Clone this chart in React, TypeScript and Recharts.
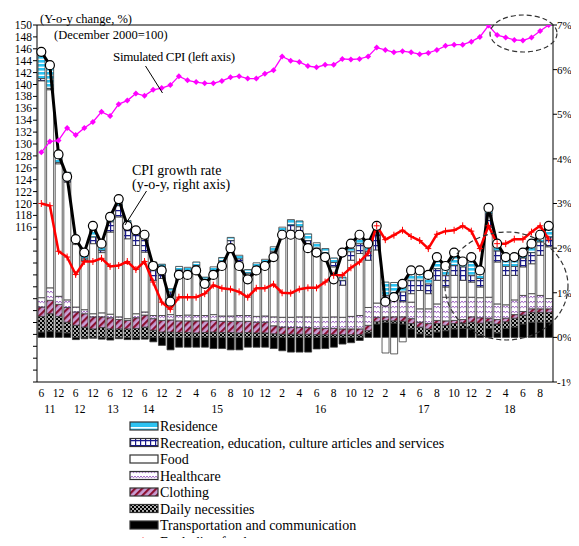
import React from 'react';
import { Bar, ComposedChart, Line, ReferenceLine, XAxis, YAxis } from 'recharts';

// quarterly to 2014, monthly from 2015
const periods = [
  '2011-06', '2011-09', '2011-12', '2012-03', '2012-06', '2012-09', '2012-12', '2013-03',
  '2013-06', '2013-09', '2013-12', '2014-03', '2014-06', '2014-09', '2014-12',
  '2015-01', '2015-02', '2015-03', '2015-04', '2015-05', '2015-06', '2015-07', '2015-08',
  '2015-09', '2015-10', '2015-11', '2015-12',
  '2016-01', '2016-02', '2016-03', '2016-04', '2016-05', '2016-06', '2016-07', '2016-08',
  '2016-09', '2016-10', '2016-11', '2016-12',
  '2017-01', '2017-02', '2017-03', '2017-04', '2017-05', '2017-06', '2017-07', '2017-08',
  '2017-09', '2017-10', '2017-11', '2017-12',
  '2018-01', '2018-02', '2018-03', '2018-04', '2018-05', '2018-06', '2018-07', '2018-08', '2018-09',
];

// contributions, % pt
const transport = [
  0.12, 0.14, 0.12, 0.1, -0.05, -0.03, -0.02, -0.04, -0.06, -0.03, -0.05, -0.05, -0.04, -0.1, -0.18,
  -0.28, -0.22, -0.22, -0.22, -0.22, -0.25, -0.25, -0.28, -0.28, -0.22, -0.22, -0.22,
  -0.25, -0.3, -0.33, -0.33, -0.33, -0.26, -0.25, -0.22, -0.15, -0.12, -0.07, 0.1,
  0.3, 0.34, 0.32, 0.3, 0.19, 0.08, 0.05, 0.12, 0.15, 0.19, 0.2, 0.19,
  0.05, 0.2, 0.1, 0.2, 0.23, 0.3, 0.34, 0.34, 0.34,
];
const daily = [
  0.35, 0.39, 0.35, 0.24, 0.27, 0.23, 0.19, 0.22, 0.19, 0.19, 0.19, 0.2, 0.23, 0.16, 0.12,
  0.12, 0.11, 0.11, 0.1, 0.11, 0.12, 0.11, 0.11, 0.1, 0.11, 0.1, 0.1,
  0.08, 0.07, 0.07, 0.07, 0.07, 0.06, 0.06, 0.06, 0.06, 0.06, 0.06, 0.05,
  0.05, 0.04, 0.05, 0.06, 0.12, 0.15, 0.14, 0.19, 0.12, 0.12, 0.12, 0.15,
  0.27, 0.15, 0.2, 0.15, 0.2, 0.2, 0.22, 0.22, 0.22,
];
const clothing = [
  0.21, 0.3, 0.27, 0.33, 0.3, 0.3, 0.27, 0.24, 0.25, 0.21, 0.19, 0.24, 0.27, 0.26, 0.26,
  0.27, 0.26, 0.26, 0.27, 0.26, 0.26, 0.25, 0.25, 0.26, 0.25, 0.24, 0.24,
  0.18, 0.16, 0.15, 0.15, 0.15, 0.14, 0.14, 0.14, 0.13, 0.13, 0.13, 0.12,
  0.1, 0.08, 0.09, 0.1, 0.11, 0.11, 0.12, 0.07, 0.1, 0.07, 0.08, 0.12,
  0.12, 0.08, 0.1, 0.08, 0.08, 0.08, 0.08, 0.08, 0.08,
];
const healthcare = [
  0.21, 0.28, 0.18, 0.17, 0.11, 0.09, 0.07, 0.09, 0.08, 0.06, 0.04, 0.09, 0.07, 0.07, 0.11,
  0.12, 0.12, 0.13, 0.12, 0.12, 0.13, 0.12, 0.12, 0.13, 0.13, 0.13, 0.14,
  0.2, 0.22, 0.23, 0.24, 0.24, 0.25, 0.25, 0.26, 0.26, 0.28, 0.3, 0.4,
  0.32, 0.33, 0.37, 0.34, 0.37, 0.3, 0.33, 0.37, 0.53, 0.52, 0.5, 0.44,
  0.45, 0.47, 0.35, 0.3, 0.33, 0.36, 0.34, 0.3, 0.23,
];
const food = [
  4.86, 4.44, 2.97, 2.64, 1.4, 1.11, 1.57, 1.35, 1.84, 2.24, 1.79, 1.53, 1.34, 0.79, 0.83,
  0.43, 0.92, 0.89, 1.02, 0.68, 0.89, 1.13, 1.58, 1.17, 0.85, 1.02, 1.09,
  1.37, 1.8, 1.95, 1.91, 1.64, 1.46, 1.34, 1.12, 0.72, 1.26, 1.39, 1.06,
  1.19, -0.35, -0.37, -0.1, 0.19, 0.41, 0.34, 0.53, 0.23, 0.49, 0.38, 0.34,
  0.24, 1.57, 0.94, 0.66, 0.55, 0.64, 0.67, 0.9, 1.16,
];
const recreation = [
  0.05, 0.03, 0.03, 0.03, 0.03, 0.03, 0.15, 0.05, 0.23, 0.26, 0.23, 0.26, 0.3, 0.22, 0.2,
  0.08, 0.1, 0.1, 0.1, 0.1, 0.1, 0.1, 0.11, 0.1, 0.1, 0.1, 0.1,
  0.1, 0.12, 0.12, 0.11, 0.07, 0.09, 0.1, 0.1, 0.11, 0.19, 0.22, 0.2,
  0.35, 0.15, 0.1, 0.22, 0.3, 0.23, 0.22, 0.26, 0.26, 0.22, 0.3, 0.15,
  0.19, 0.3, 0.25, 0.2, 0.2, 0.2, 0.25, 0.3, 0.22,
];
const residence = [
  0.6, 0.56, 0.23, 0.19, 0.12, 0.14, 0.22, 0.2, 0.18, 0.15, 0.18, 0.12, 0.12, 0.19, 0.12,
  0.07, 0.08, 0.08, 0.08, 0.08, 0.08, 0.08, 0.07, 0.08, 0.08, 0.08, 0.08,
  0.1, 0.1, 0.12, 0.13, 0.15, 0.12, 0.1, 0.1, 0.07, 0.07, 0.11, 0.12,
  0.2, 0.3, 0.3, 0.22, 0.18, 0.15, 0.15, 0.19, 0.22, 0.3, 0.18, 0.3,
  0.22, 0.15, 0.15, 0.2, 0.2, 0.17, 0.2, 0.17, 0.2,
];

// y-o-y, %
const cpiGrowth = [
  6.4, 6.1, 4.1, 3.6, 2.2, 1.9, 2.5, 2.1, 2.7, 3.1, 2.5, 2.4, 2.3, 1.6, 1.5,
  0.8, 1.4, 1.4, 1.5, 1.2, 1.4, 1.6, 2.0, 1.6, 1.3, 1.5, 1.6,
  1.8, 2.3, 2.3, 2.3, 2.0, 1.9, 1.8, 1.3, 1.9, 2.1, 2.3, 2.1,
  2.5, 0.8, 0.9, 1.2, 1.5, 1.5, 1.4, 1.8, 1.6, 1.9, 1.7, 1.8,
  1.5, 2.9, 2.1, 1.8, 1.8, 1.9, 2.1, 2.3, 2.5,
];
const excludingFood = [
  3.0, 2.95, 1.93, 1.8, 1.41, 1.7, 1.7, 1.77, 1.59, 1.61, 1.7, 1.52, 1.7, 1.24, 0.79,
  0.63, 0.9, 0.9, 0.9, 0.98, 1.17, 1.1, 1.08, 1.02, 0.9, 1.1, 1.1,
  1.19, 1.0, 0.99, 1.08, 1.11, 1.11, 1.24, 1.39, 1.39, 1.56, 1.69, 1.89,
  2.5, 2.19, 2.29, 2.4, 2.26, 2.17, 1.99, 2.31, 2.38, 2.4, 2.5, 2.38,
  1.99, 2.5, 2.1, 2.1, 2.2, 2.2, 2.36, 2.5, 2.2,
];
// index, December 2000 = 100
const simulatedCpi = [
  128.6, 130.4, 130.6, 132.7, 131.5, 132.7, 133.7, 135.4, 134.7, 136.7, 137.3, 138.5, 138.1, 139.1, 139.4,
  139.9, 141.4, 140.7, 140.4, 140.2, 140.2, 140.6, 141.2, 141.4, 141.0, 141.0, 141.8,
  142.4, 144.7, 144.0, 143.8, 143.1, 142.9, 143.3, 143.3, 144.3, 144.2, 144.3, 144.7,
  146.2, 145.8, 145.4, 145.6, 145.4, 145.1, 145.3, 145.8, 146.5, 146.7, 146.7, 147.2,
  148.0, 149.9, 148.3, 147.9, 147.5, 147.4, 147.9, 149.0, 150.0,
];

const leftTicks = [
  90, 92, 94, 96, 98, 100, 102, 104, 106, 108, 110, 112, 114, 116, 118, 120, 122, 124,
  126, 128, 130, 132, 134, 136, 138, 140, 142, 144, 146, 148, 150,
];
const rightTicks = [-1, 0, 1, 2, 3, 4, 5, 6, 7];
const yearLabels = [
  { at: '2011-09', text: '11', dx: 0 },
  { at: '2012-06', text: '12', dx: 4 },
  { at: '2013-06', text: '13', dx: 3 },
  { at: '2014-06', text: '14', dx: 4 },
  { at: '2015-06', text: '15', dx: 4 },
  { at: '2016-06', text: '16', dx: 4 },
  { at: '2017-06', text: '17', dx: 4 },
  { at: '2018-04', text: '18', dx: 4 },
];

const data = periods.map((p, i) => ({
  period: p,
  transport: transport[i],
  daily: daily[i],
  clothing: clothing[i],
  healthcare: healthcare[i],
  food: food[i],
  recreation: recreation[i],
  residence: residence[i],
  cpi: cpiGrowth[i],
  exFood: excludingFood[i],
  sim: simulatedCpi[i],
}));

const FONT = 'Liberation Serif, Times New Roman, serif';
const AXIS_Y = 382;

const legendItems = [
  { name: 'Residence', fill: 'url(#pResL)' },
  { name: 'Recreation, education, culture articles and services', fill: 'url(#pRec)' },
  { name: 'Food', fill: '#ffffff' },
  { name: 'Healthcare', fill: 'url(#pHea)' },
  { name: 'Clothing', fill: 'url(#pClo)' },
  { name: 'Daily necessities', fill: 'url(#pDai)' },
  { name: 'Transportation and communication', fill: '#000000' },
];

function Patterns() {
  return (
    <defs>
      <pattern id="pRes" width="4" height="4" patternUnits="userSpaceOnUse">
        <rect width="4" height="4" fill="#2cc3f2" />
        <rect y="2.6" width="4" height="1.4" fill="#ffffff" />
      </pattern>
      <pattern id="pResL" width="4" height="8" patternUnits="userSpaceOnUse" y="-1">
        <rect width="4" height="8" fill="#2cc3f2" />
        <rect y="4" width="4" height="1.6" fill="#ffffff" />
      </pattern>
      <pattern id="pRec" width="5" height="5" patternUnits="userSpaceOnUse">
        <rect width="5" height="5" fill="#ffffff" />
        <path d="M0,0.6H5M0.6,0V5" stroke="#1a1a8c" strokeWidth="1.2" />
      </pattern>
      <pattern id="pHea" width="6" height="5" patternUnits="userSpaceOnUse">
        <rect width="6" height="5" fill="#ffffff" />
        <path d="M0,1 Q1.5,4.2 3,1 Q4.5,4.2 6,1" fill="none" stroke="#9a5cc2" strokeWidth="1" />
      </pattern>
      <pattern id="pClo" width="5" height="5" patternUnits="userSpaceOnUse" patternTransform="rotate(45)">
        <rect width="5" height="5" fill="#c9a0d6" />
        <rect width="2.2" height="5" fill="#8b1030" />
      </pattern>
      <pattern id="pDai" width="4" height="4" patternUnits="userSpaceOnUse">
        <rect width="4" height="4" fill="#000000" />
        <circle cx="1" cy="1" r="0.9" fill="#ffffff" />
        <circle cx="3" cy="3" r="0.9" fill="#ffffff" />
      </pattern>
    </defs>
  );
}

const PlusDot = (props: any) => {
  const { cx, cy, index } = props;
  if (cx == null || cy == null) return null;
  return (
    <path
      key={`p${index}`}
      d={`M${cx - 3},${cy}H${cx + 3}M${cx},${cy - 3.5}V${cy + 3.5}`}
      stroke="#ff0000"
      strokeWidth={1}
    />
  );
};

const DiamondDot = (props: any) => {
  const { cx, cy, index } = props;
  if (cx == null || cy == null) return null;
  return (
    <path
      key={`d${index}`}
      d={`M${cx},${cy - 3}L${cx + 3},${cy}L${cx},${cy + 3}L${cx - 3},${cy}Z`}
      fill="#ff00ff"
    />
  );
};

const PeriodTick = (props: any) => {
  const { x, payload } = props;
  const i = periods.indexOf(payload.value);
  const month = Number(payload.value.slice(5));
  const year = yearLabels.find((y) => y.at === payload.value);
  return (
    <g fontFamily={FONT} fontSize={11.5} fill="#000">
      {i % 2 === 0 && (
        <text x={x} y={AXIS_Y + 15} textAnchor="middle">{month}</text>
      )}
      {year && (
        <text x={x + year.dx} y={AXIS_Y + 31} textAnchor="middle">{year.text}</text>
      )}
    </g>
  );
};

const barStyle = { stackId: 's', yAxisId: 'right', stroke: '#3a3a3a', strokeWidth: 0.8, isAnimationActive: false };

export default function App() {
  return (
    <div style={{ position: 'relative', width: 579, height: 546, margin: -8, overflow: 'hidden', background: '#fff' }}>
      <svg width={0} height={0} style={{ position: 'absolute' }}>
        <Patterns />
      </svg>
      <ComposedChart
        width={579}
        height={420}
        data={data}
        stackOffset="sign"
        barCategoryGap="12%"
        margin={{ top: 25, right: 0, bottom: 0, left: 0 }}
      >
        <XAxis
          dataKey="period"
          interval={0}
          tickLine={false}
          axisLine={{ stroke: '#000' }}
          height={38}
          tick={<PeriodTick />}
        />
        <YAxis
          yAxisId="left"
          domain={[90, 150]}
          ticks={leftTicks}
          interval={0}
          allowDataOverflow
          width={37}
          tickSize={4}
          tickMargin={1}
          axisLine={{ stroke: '#000' }}
          tickLine={{ stroke: '#000' }}
          tickFormatter={(v: number) => (v >= 116 ? String(v) : '')}
          tick={{ fontSize: 11.5, fill: '#000', fontFamily: FONT }}
        />
        <YAxis
          yAxisId="right"
          orientation="right"
          domain={[-1, 7]}
          ticks={rightTicks}
          interval={0}
          allowDataOverflow
          width={26}
          tickSize={4}
          tickMargin={0}
          axisLine={{ stroke: '#000' }}
          tickLine={{ stroke: '#000' }}
          tickFormatter={(v: number) => `${v}%`}
          tick={{ fontSize: 11, fill: '#000', fontFamily: FONT }}
        />
        <ReferenceLine yAxisId="right" y={7} stroke="#000" />
        <Bar dataKey="transport" fill="#000000" {...barStyle} />
        <Bar dataKey="daily" fill="url(#pDai)" {...barStyle} />
        <Bar dataKey="clothing" fill="url(#pClo)" {...barStyle} />
        <Bar dataKey="healthcare" fill="url(#pHea)" {...barStyle} />
        <Bar dataKey="food" fill="#ffffff" {...barStyle} />
        <Bar dataKey="recreation" fill="url(#pRec)" {...barStyle} />
        <Bar dataKey="residence" fill="url(#pRes)" {...barStyle} />
        <Line
          yAxisId="right"
          dataKey="cpi"
          type="linear"
          stroke="#000"
          strokeWidth={3}
          dot={{ r: 4.5, fill: '#fff', stroke: '#000', strokeWidth: 1.2 }}
          isAnimationActive={false}
        />
        <Line
          yAxisId="right"
          dataKey="exFood"
          type="linear"
          stroke="#ff0000"
          strokeWidth={2.5}
          dot={PlusDot}
          isAnimationActive={false}
        />
        <Line
          yAxisId="left"
          dataKey="sim"
          type="linear"
          stroke="#ff00ff"
          strokeWidth={1.3}
          dot={DiamondDot}
          isAnimationActive={false}
        />
      </ComposedChart>

      <svg
        width={579}
        height={546}
        style={{ position: 'absolute', left: 0, top: 0, pointerEvents: 'none' }}
        fontFamily={FONT}
      >
        <text x={40} y={23} fontSize={12.5}>(Y-o-y change, %)</text>
        <text x={54} y={39} fontSize={12.5}>(December 2000=100)</text>
        <text x={113} y={61} fontSize={13} textLength={122}>Simulated CPI (left axis)</text>
        <line x1={145.5} y1={66} x2={162.5} y2={93} stroke="#000" strokeWidth={1} />
        <text x={132} y={175} fontSize={14}>CPI growth rate</text>
        <text x={132} y={189} fontSize={14}>(y-o-y, right axis)</text>
        <line x1={146.5} y1={191} x2={125} y2={225} stroke="#000" strokeWidth={1} />
        <ellipse cx={523.5} cy={33.5} rx={33.5} ry={18.5} fill="none" stroke="#333" strokeWidth={1.2} strokeDasharray="5 3" />
        <ellipse cx={506.5} cy={286} rx={61.5} ry={54} fill="none" stroke="#333" strokeWidth={1.2} strokeDasharray="5 3" />

        {legendItems.map((item, k) => {
          const cy = 426 + k * 16.5;
          return (
            <g key={item.name}>
              <rect x={130} y={cy - 4} width={28} height={8} fill={item.fill} stroke="#333" strokeWidth={1.2} />
              <text x={160} y={cy + 5} fontSize={14}>{item.name}</text>
            </g>
          );
        })}
        <g>
          <line x1={128} y1={541.5} x2={158} y2={541.5} stroke="#ff0000" strokeWidth={2.5} />
          <path d="M143,537.5V545.5" stroke="#ff0000" strokeWidth={1.2} />
          <text x={160} y={546.5} fontSize={14}>Excluding food</text>
        </g>
      </svg>
    </div>
  );
}
